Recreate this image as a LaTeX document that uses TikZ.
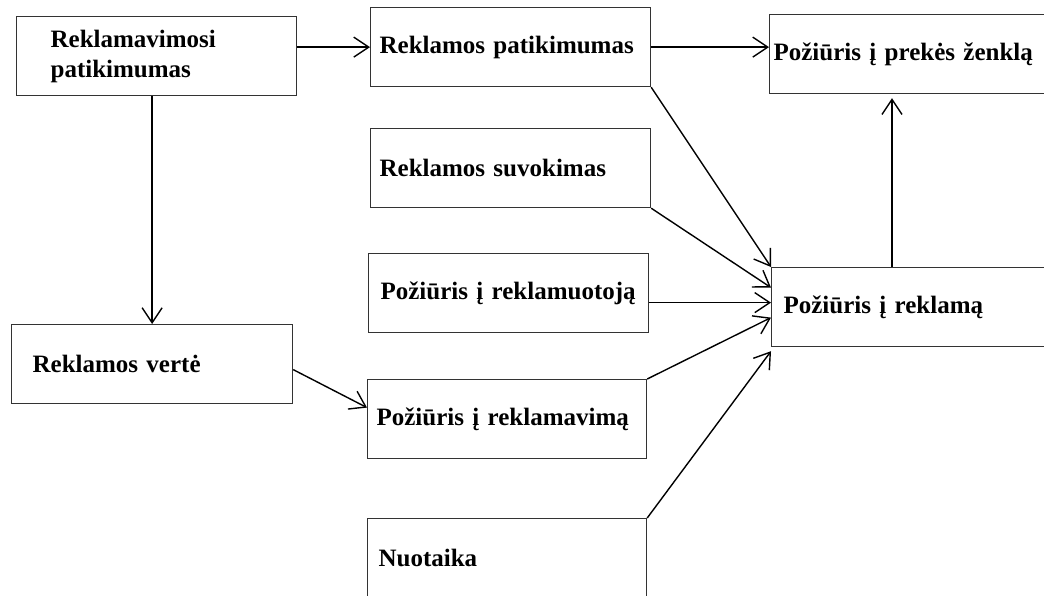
\documentclass[tikz,border=0pt]{standalone}
\usepackage{fontspec}
\setmainfont{Liberation Serif}
\usetikzlibrary{arrows.meta}
\tikzstyle{block} = [
    rectangle, anchor=north west,
    minimum height=79pt,
    align=left,
    font=\bfseries\fontsize{25}{30}\selectfont,
    draw=black!80, line width=1.2pt
]
\tikzstyle{arrow} = [line width=1.4pt, -{Straight Barb[length=15pt,width=20pt]}]

\begin{document}
\begin{tikzpicture}[x=1pt, y=-1pt]
        \clip (0,0) rectangle (1044,595);
        % Draw blocks
        \node (ap) [block, text width=212pt, inner xsep=34pt] at (16,16) {Reklamavimosi\\patikimumas};
        \node (rp) [block, text width=262pt, inner xsep=9pt] at (370,7) {Reklamos patikimumas};
        \node (pz) [block, text width=400pt, inner xsep=4pt] at (769,14) {Požiūris į prekės ženklą};
        \node (rs) [block, text width=262pt, inner xsep=9pt] at (370,128) {Reklamos suvokimas};
        \node (pr) [block, text width=256pt, inner xsep=12pt] at (368,253) {Požiūris į reklamuotoją};
        \node (g) [block, text width=400pt, inner xsep=12pt] at (771,267) {Požiūris į reklamą};
        \node (rv) [block, text width=239pt, inner xsep=21pt] at (11,324) {Reklamos vertė};
        \node (pv) [block, text width=261pt, inner xsep=9pt] at (367,379) {Požiūris į reklamavimą};
        \node (n) [block, text width=257pt, inner xsep=11pt] at (367,518) {Nuotaika};

        % Draw arrows
        \draw [arrow] (ap.east |- rp.west) -- (rp.west);
        \draw [arrow] (rp.east) -- (rp.east -| pz.west);
        \draw [arrow] (rv.north |- ap.south) -- (rv.north);
        \draw [arrow] ([yshift=-5.5pt]rv.east) -- ([yshift=11.5pt]pv.west);
        \draw [arrow] (rp.south east) -- (g.north west);
        \draw [arrow] (rs.south east) -- ([yshift=19.5pt]g.west);
        \draw [arrow] ([yshift=-9.5pt]pr.east) coordinate (prg) -- (prg -| g.west);
        \draw [arrow] (pv.north east) -- ([yshift=-10.5pt]g.west);
        \draw [arrow] (n.north east) -- ([yshift=-4pt]g.south west);
        \draw [arrow, shorten >=4pt] ([xshift=121pt]g.north west) coordinate (gp) -- (gp |- pz.south);
\end{tikzpicture}
\end{document}
